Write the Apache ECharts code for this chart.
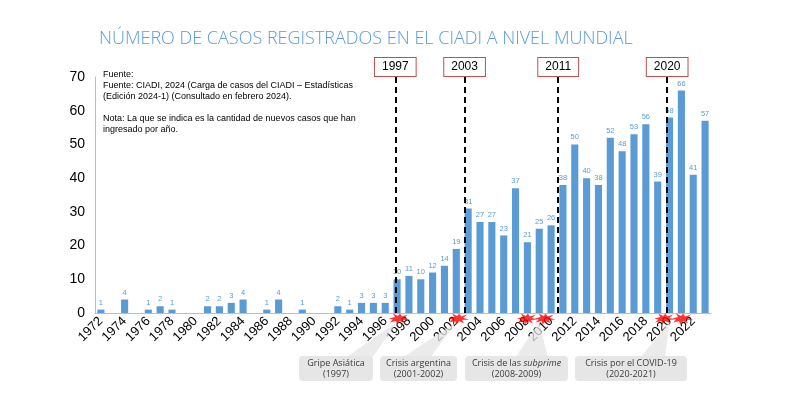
<!DOCTYPE html>
<html><head><meta charset="utf-8">
<script src="https://cdn.jsdelivr.net/npm/echarts@6/dist/echarts.min.js"></script>
<style>html,body{margin:0;padding:0;background:#fff}#c{width:788px;height:405px}</style>
</head><body><div id="c"></div>
<script>
const years = ['1972','1973','1974','1975','1976','1977','1978','1979','1980','1981','1982','1983','1984','1985','1986','1987','1988','1989','1990','1991','1992','1993','1994','1995','1996','1997','1998','1999','2000','2001','2002','2003','2004','2005','2006','2007','2008','2009','2010','2011','2012','2013','2014','2015','2016','2017','2018','2019','2020','2021','2022','2023'];
const cases = [1,0,4,0,1,2,1,0,0,2,2,3,4,0,1,4,0,1,0,0,2,1,3,3,3,10,11,10,12,14,19,31,27,27,23,37,21,25,26,38,50,40,38,52,48,53,56,39,58,66,41,57];
const markerYears = [1996.85, 2002.7, 2010.6, 2019.8];
const markerLabels = ['1997','2003','2011','2020'];
const crisisStars = [1997.2, 2002.2, 2008, 2009.5, 2019.6, 2021.1];
const yTicks = [0,10,20,30,40,50,60,70];
const callouts = [
  {l1:'Gripe Asiática', l2:'(1997)', tip:1997},
  {l1:'Crisis argentina', l2:'(2001-2002)', tip:2002},
  {l1:'Crisis de las {i|subprime}', l2:'(2008-2009)', tip:2009},
  {l1:'Crisis por el COVID-19', l2:'(2020-2021)', tip:2020}
];
const boxes = [[299,356,74,25],[380,356,77,25],[465,356,103,25],[575,356,112,25]];
const pointerBases = [[345,372],[402,430],[515,548],[640,665]];

const starPath = 'path://M0,5 L6,3.5 L4,0 L9,2.5 L11,0 L13,3 L19,1 L15,4.5 L21,6 L14,6.5 L16,10 L11,7.5 L8,11 L7,7.5 L1,9 L4,6 Z';

const chart = echarts.init(document.getElementById('c'));
const grid = {left:95, right:77, top:77, bottom:92};
const option = {
  animation:false,
  title:{text:'NÚMERO DE CASOS REGISTRADOS EN EL CIADI A NIVEL MUNDIAL', left:94, top:25,
    textStyle:{color:'#5B9BD5', fontSize:18, fontWeight:300, fontFamily:'Open Sans'}},
  grid:grid,
  xAxis:[
    {type:'category', data:years, axisLine:{lineStyle:{color:'#BFBFBF'}}, axisTick:{show:false},
     axisLabel:{interval:1, rotate:45, color:'#000', fontSize:13, fontFamily:'Liberation Sans', margin:6}},
    {type:'value', min:1971.5, max:2023.5, show:false}
  ],
  yAxis:{type:'value', min:0, max:70, interval:10, axisLine:{show:true, lineStyle:{color:'#BFBFBF'}},
    axisTick:{show:false}, splitLine:{show:false},
    axisLabel:{color:'#000', fontSize:14, fontFamily:'Liberation Sans', margin:10,
      formatter:v=>yTicks.includes(v)?String(v):''}},
  series:[
    {type:'bar', data:cases, barCategoryGap:'40%', itemStyle:{color:'#5B9BD5'},
     label:{show:true, position:'top', distance:3, color:'#5B9BD5', fontSize:7.5, fontFamily:'Liberation Sans',
       formatter:p=>p.value?String(p.value):''}},
    {type:'scatter', xAxisIndex:1, yAxisIndex:0, clip:false, symbol:starPath, symbolSize:[21,11],
     itemStyle:{color:'#FF0000'}, z:5,
     data:crisisStars.map(x=>[x,-1.8]),
     markLine:{silent:true, symbol:'none', lineStyle:{color:'#000', type:[6,4], width:2},
       label:{show:true, position:'end', distance:1, formatter:'{b}', color:'#000', fontSize:12,
         fontFamily:'Liberation Sans', backgroundColor:'#fff', borderColor:'#C0504D', borderWidth:1,
         padding:[3,7,3,7]},
       data:markerYears.map((x,i)=>({xAxis:x, name:markerLabels[i]}))}}
  ]
};
chart.setOption(option);

const graphics = [];
graphics.push({type:'text', left:103, top:69, z:10, style:{
  text:'Fuente:\nFuente: CIADI, 2024 (Carga de casos del CIADI – Estadísticas\n(Edición 2024-1) (Consultado en febrero 2024).\n\nNota: La que se indica es la cantidad de nuevos casos que han\ningresado por año.',
  fontSize:9, lineHeight:11, fill:'#000', fontFamily:'Liberation Sans'}});
callouts.forEach((c,i)=>{
  const tip = chart.convertToPixel({xAxisIndex:1, yAxisIndex:0}, [c.tip, 0]);
  const b = boxes[i], pb = pointerBases[i];
  graphics.push({type:'polygon', z:20, shape:{points:[[pb[0],b[1]+2],[pb[1],b[1]+2],[tip[0],tip[1]+9]]},
    style:{fill:'#E4E4E4', opacity:0.75}});
  graphics.push({type:'rect', z:21, shape:{x:b[0], y:b[1], width:b[2], height:b[3], r:4}, style:{fill:'#E7E6E6'}});
  graphics.push({type:'text', z:22, x:b[0]+b[2]/2, y:b[1]+1.5, style:{
    text:c.l1+'\n'+c.l2, align:'center', fontSize:9, lineHeight:11.5, fill:'#3A3A3A', fontFamily:'Open Sans',
    rich:{i:{fontStyle:'italic', fontSize:9, fill:'#3A3A3A', fontFamily:'Open Sans'}}}});
});
chart.setOption({graphic:graphics});
</script></body></html>
